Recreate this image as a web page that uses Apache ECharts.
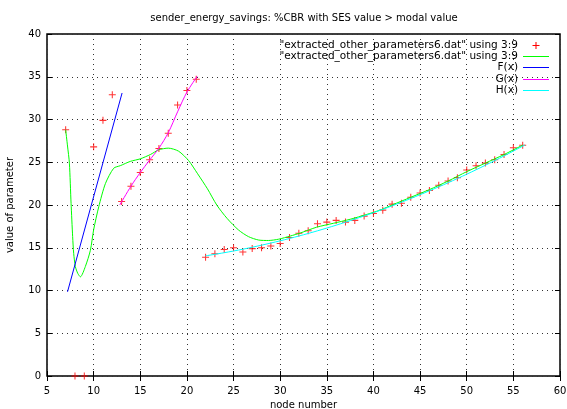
<!DOCTYPE html>
<html>
<head>
<meta charset="utf-8">
<script src="https://cdn.jsdelivr.net/npm/echarts@6/dist/echarts.min.js"></script>
<style>html,body{margin:0;padding:0;background:#fff}#c{width:567px;height:409px}</style>
</head>
<body>
<div id="c"></div>
<script>
// Data points ("extracted_other_parameters6.dat" using 3:9)
const pointX = [7, 8, 9, 10, 11, 12, 13, 14, 15, 16, 17, 18, 19, 20, 21, 22, 23, 24, 25, 26, 27, 28, 29, 30, 31, 32, 33, 34, 35, 36, 37, 38, 39, 40, 41, 42, 43, 44, 45, 46, 47, 48, 49, 50, 51, 52, 53, 54, 55, 56];
const pointY = [28.8, 0, 0, 26.8, 29.9, 32.9, 20.4, 22.2, 23.8, 25.3, 26.6, 28.4, 31.7, 33.4, 34.7, 13.9, 14.3, 14.8, 15.0, 14.5, 14.9, 15.0, 15.2, 15.5, 16.2, 16.7, 17.0, 17.8, 18.0, 18.2, 18.0, 18.2, 18.7, 19.0, 19.4, 20.1, 20.2, 20.9, 21.4, 21.7, 22.3, 22.8, 23.2, 24.1, 24.6, 24.9, 25.3, 25.9, 26.7, 27.0];
// Smoothed curve (same file, drawn as line)
const smoothX = [7.0, 7.2, 7.4, 7.58, 7.75, 7.86, 8.04, 8.3, 8.58, 9.11, 9.65, 10.0, 10.55, 11.26, 12.15, 12.86, 13.93, 15.0, 16.08, 16.97, 18.0, 19.1, 20.18, 21.15, 22.2, 23.2, 24.3, 25.54, 26.6, 27.7, 28.75, 29.83, 31.08, 32.15, 33.9, 35.7, 37.5, 39.3, 40.7, 42, 44, 46, 48, 50, 52, 54, 56];
const smoothY = [28.8, 26.9, 24.9, 20.2, 16.3, 14.35, 12.8, 12.0, 11.6, 12.8, 14.7, 17.1, 19.8, 22.5, 24.3, 24.6, 25.1, 25.4, 25.9, 26.45, 26.65, 26.3, 25.2, 23.65, 21.9, 20.0, 18.44, 17.07, 16.3, 15.9, 15.85, 16.0, 16.37, 16.72, 17.4, 17.86, 18.33, 18.9, 19.4, 20.0, 20.9, 21.8, 22.8, 23.9, 24.9, 25.9, 27.0];
// F(x)
const fX = [7.2, 13.05];
const fY = [9.85, 33.1];
// G(x)
const gX = [12.8, 14, 15, 16, 17, 18, 19, 20, 21.1];
const gY = [20.0, 22.2, 23.8, 25.25, 26.65, 28.45, 30.9, 33.2, 35.05];
// H(x)
const hX = [22, 24, 26, 28, 30, 32, 34, 36, 38, 40, 42, 44, 46, 48, 50, 52, 54, 56.25];
const hY = [14.05, 14.42, 14.83, 15.30, 15.81, 16.37, 16.98, 17.64, 18.35, 19.10, 19.90, 20.76, 21.66, 22.60, 23.60, 24.65, 25.74, 27.03];
// Axis ticks
const xTicks = {min: 5, max: 60, step: 5};
const yTicks = {min: 0, max: 40, step: 5};
const titleText = 'sender_energy_savings: %CBR with SES value > modal value';
const fileLabel = '"extracted_other_parameters6.dat" using 3:9';

const zip = (a, b) => a.map((v, i) => [v, b[i]]);
const FONT = 'DejaVu Sans';
const plus = 'path://M4.25,0h1.5v4.25h4.25v1.5h-4.25v4.25h-1.5v-4.25h-4.25v-1.5h4.25z';
const tx = {fontFamily: FONT, fontSize: 10, color: '#000'};
const split = {show: true, lineStyle: {color: '#333', width: 1, type: [1, 4]}};
const COLORS = {pts: '#ff0000', smooth: '#00ff00', F: '#0000ff', G: '#ff00ff', H: '#00ffff'};

function legendRow(name, top, label, color, isPts) {
  return {
    z: 10,
    right: isPts ? 27.5 : 18, top: top, padding: 0, orient: 'horizontal', align: 'right',
    itemWidth: isPts ? 7 : 26, itemHeight: isPts ? 7 : 1, itemGap: 0,
    itemStyle: {color: color, borderWidth: 0, opacity: 1},
    lineStyle: {width: 0, opacity: 0},
    textStyle: {fontFamily: FONT, fontSize: 10.5, lineHeight: 13, color: '#000', padding: isPts ? [0, 9.5, 0, 0] : 0},
    data: [{name: name, icon: isPts ? plus : 'rect', itemStyle: {color: color, borderWidth: 0}}],
    formatter: () => label,
    selectedMode: false
  };
}

const chart = echarts.init(document.getElementById('c'), null, {renderer: 'canvas'});
chart.setOption({
  animation: false,
  backgroundColor: '#fff',
  title: {text: titleText, left: 299, textAlign: 'center', top: 8,
    textStyle: {fontFamily: FONT, fontSize: 10, fontWeight: 'normal', color: '#000'}},
  grid: {left: 47, right: 7, top: 34, bottom: 33, containLabel: false, outerBoundsMode: 'none',
    show: true, borderColor: '#000', borderWidth: 1.5, backgroundColor: 'transparent'},
  legend: [
    legendRow('pts', 39, fileLabel, COLORS.pts, true),
    legendRow('smooth', 50, fileLabel, COLORS.smooth),
    legendRow('F(x)', 61, 'F(x)', COLORS.F),
    legendRow('G(x)', 73, 'G(x)', COLORS.G),
    legendRow('H(x)', 84, 'H(x)', COLORS.H)
  ],
  xAxis: [{
    type: 'value', min: xTicks.min, max: xTicks.max, interval: xTicks.step,
    name: 'node number', nameLocation: 'middle', nameGap: 23, nameTextStyle: tx,
    axisLine: {show: false}, axisTick: {show: true, inside: true, length: 5, lineStyle: {color: '#000'}},
    axisLabel: Object.assign({margin: 10}, tx), splitLine: split
  }, {
    type: 'value', position: 'top', min: xTicks.min, max: xTicks.max, interval: xTicks.step,
    axisLine: {show: false}, axisTick: {show: true, inside: true, length: 5, lineStyle: {color: '#000'}},
    axisLabel: {show: false}, splitLine: {show: false}
  }],
  yAxis: [{
    type: 'value', min: yTicks.min, max: yTicks.max, interval: yTicks.step,
    name: 'value of parameter', nameLocation: 'middle', nameGap: 32, nameRotate: 90, nameTextStyle: tx,
    axisLine: {show: false}, axisTick: {show: true, inside: true, length: 5, lineStyle: {color: '#000'}},
    axisLabel: Object.assign({margin: 6}, tx), splitLine: split
  }, {
    type: 'value', position: 'right', min: yTicks.min, max: yTicks.max, interval: yTicks.step,
    axisLine: {show: false}, axisTick: {show: true, inside: true, length: 5, lineStyle: {color: '#000'}},
    axisLabel: {show: false}, splitLine: {show: false}
  }],
  series: [
    {name: 'pts', type: 'scatter', data: zip(pointX, pointY), symbol: plus, symbolSize: 7,
      itemStyle: {color: COLORS.pts}, clip: false},
    {name: 'smooth', type: 'line', data: zip(smoothX, smoothY), symbol: 'none', smooth: 0.25,
      lineStyle: {color: COLORS.smooth, width: 1}, itemStyle: {color: COLORS.smooth}},
    {name: 'F(x)', type: 'line', data: zip(fX, fY), symbol: 'none',
      lineStyle: {color: COLORS.F, width: 1}, itemStyle: {color: COLORS.F}},
    {name: 'G(x)', type: 'line', data: zip(gX, gY), symbol: 'none', smooth: 0.3,
      lineStyle: {color: COLORS.G, width: 1}, itemStyle: {color: COLORS.G}},
    {name: 'H(x)', type: 'line', data: zip(hX, hY), symbol: 'none', smooth: 0.3,
      lineStyle: {color: COLORS.H, width: 1}, itemStyle: {color: COLORS.H}}
  ]
});
</script>
</body>
</html>
